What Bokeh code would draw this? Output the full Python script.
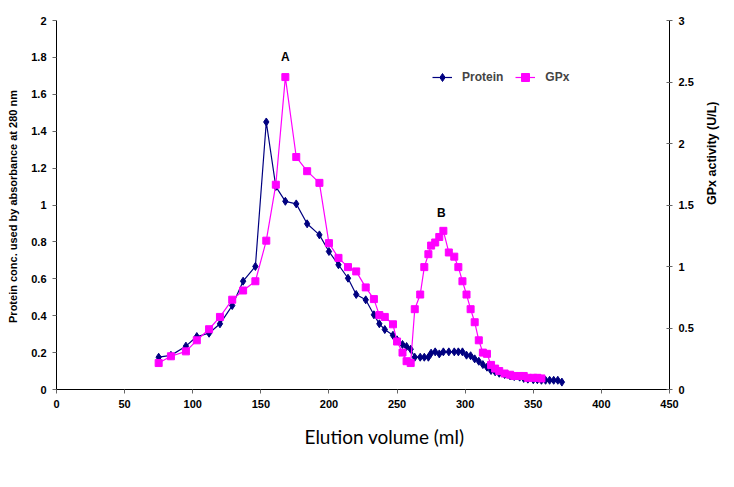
import math
from bokeh.plotting import figure
from bokeh.models import (Range1d, LinearAxis, FixedTicker, Legend, LegendItem, Title)
from bokeh.core.properties import value
from bokeh.embed import file_html
from bokeh.resources import INLINE

# Elution volumes (ml) of the collected fractions
elution_ml = [75, 84, 95, 103, 112, 120, 129, 137, 146, 154, 161, 168, 176, 184,
              193, 200, 207, 214, 220, 227, 233, 237, 241, 247, 250, 254, 257, 260,
              263, 267, 270, 273, 275, 278, 281, 284, 288, 292, 295, 298, 301, 304,
              307, 310, 313, 316, 319, 322, 325, 329, 333, 336, 340, 343, 346, 350,
              353, 356, 359, 362, 365, 368, 371]

# Absorbance at 280 nm (left axis)
protein = [0.175, 0.185, 0.235, 0.287, 0.305, 0.356, 0.455, 0.587, 0.667, 1.45,
           1.10, 1.02, 1.006, 0.898, 0.838, 0.748, 0.676, 0.603, 0.515, 0.486,
           0.405, 0.356, 0.325, 0.294, 0.269, 0.244, 0.233, 0.218, 0.175, 0.175,
           0.175, 0.175, 0.197, 0.204, 0.193, 0.204, 0.204, 0.204, 0.204, 0.204,
           0.186, 0.183, 0.166, 0.153, 0.135, 0.121, 0.103, 0.096, 0.088, 0.081,
           0.074, 0.070, 0.067, 0.060, 0.056, 0.053, 0.053, 0.050, 0.050, 0.050,
           0.050, 0.050, 0.040]

# GPx activity, U/L (right axis), measured up to 356 ml
gpx = [0.215, 0.27, 0.31, 0.40, 0.49, 0.59, 0.73, 0.805, 0.88, 1.21,
       1.665, 2.54, 1.89, 1.775, 1.68, 1.19, 1.07, 0.995, 0.96, 0.83,
       0.735, 0.605, 0.59, 0.53, 0.39, 0.30, 0.23, 0.215, 0.653, 0.772,
       0.995, 1.10, 1.17, 1.195, 1.24, 1.29, 1.114, 1.08, 0.995, 0.88,
       0.772, 0.653, 0.547, 0.40, 0.30, 0.29, 0.20, 0.17, 0.15, 0.13,
       0.12, 0.11, 0.11, 0.11, 0.095, 0.095, 0.095, 0.09]
gpx_ml = elution_ml[:len(gpx)]

# Peak annotations (data coordinates, left axis)
peak_names = ["A", "B"]
peak_x = [168, 282.5]
peak_y = [1.80, 0.955]

x_ticks = [0, 50, 100, 150, 200, 250, 300, 350, 400, 450]
x_labels = ["0", "50", "100", "150", "200", "250", "300", "350", "400", "450"]
left_ticks = [0, 0.2, 0.4, 0.6, 0.8, 1, 1.2, 1.4, 1.6, 1.8, 2]
left_labels = ["0", "0.2", "0.4", "0.6", "0.8", "1", "1.2", "1.4", "1.6", "1.8", "2"]
right_ticks = [0, 0.5, 1, 1.5, 2, 2.5, 3]
right_labels = ["0", "0.5", "1", "1.5", "2", "2.5", "3"]

NAVY = "#000080"
MAGENTA = "#FF00FF"
TICK_FONT = "Liberation Sans"

p = figure(width=734, height=487, output_backend="svg", toolbar_location=None,
           x_range=Range1d(0, 450), y_range=Range1d(0, 2))
p.min_border_left = 56
p.min_border_right = 65
p.min_border_top = 20
p.min_border_bottom = 98
p.outline_line_color = None
p.background_fill_color = "white"
p.border_fill_color = "white"
p.xgrid.visible = False
p.ygrid.visible = False

p.extra_y_ranges = {"gpx": Range1d(0, 3)}

def style_axis(ax, ticks, labels):
    ax.ticker = FixedTicker(ticks=ticks)
    ax.major_label_overrides = {t: l for t, l in zip(ticks, labels)}
    ax.minor_tick_line_color = None
    ax.axis_line_color = "black"
    ax.axis_line_width = 1
    ax.major_tick_line_color = "#666666"
    ax.major_label_text_font = TICK_FONT
    ax.major_label_text_font_style = "bold"
    ax.major_label_text_font_size = "11px"
    ax.major_label_text_color = "black"

xa = p.xaxis[0]
style_axis(xa, x_ticks, x_labels)
xa.major_tick_out = 4
xa.major_tick_in = 0
xa.major_label_standoff = 6

ya = p.yaxis[0]
style_axis(ya, left_ticks, left_labels)
ya.major_tick_out = 4
ya.major_tick_in = 0
ya.major_label_standoff = 6
ya.axis_label = "Protein conc. used by  absorbance at 280 nm"
ya.axis_label_text_font = TICK_FONT
ya.axis_label_text_font_style = "bold"
ya.axis_label_text_font_size = "11px"
ya.axis_label_standoff = 9
ya.axis_label_text_color = "black"

ra = LinearAxis(y_range_name="gpx")
style_axis(ra, right_ticks, right_labels)
ra.major_tick_out = 3
ra.major_tick_in = 3
ra.major_label_standoff = 6
ra.axis_label = "GPx  activity (U/L)"
ra.axis_label_orientation = math.pi / 2
ra.axis_label_text_font = TICK_FONT
ra.axis_label_text_font_style = "bold"
ra.axis_label_text_font_size = "12.5px"
ra.axis_label_standoff = 15
ra.axis_label_text_color = "black"
p.add_layout(ra, "right")

# x-axis title, set a little right of the frame centre
x_title = Title(text="Elution volume (ml)", align="left", offset=248, standoff=24,
                text_font="Lato", text_font_style="normal", text_font_size="19px",
                text_color="black")
p.add_layout(x_title, "below")

# Protein elution profile
pl = p.line(elution_ml, protein, line_color=NAVY, line_width=1.2)
pm = p.scatter(elution_ml, protein, marker="diamond", size=8,
               fill_color=NAVY, line_color=NAVY)

# GPx activity profile
gl = p.line(gpx_ml, gpx, line_color=MAGENTA, line_width=1.2, y_range_name="gpx")
gm = p.scatter(gpx_ml, gpx, marker="square", size=7, fill_color=MAGENTA,
               line_color=MAGENTA, y_range_name="gpx")

p.text(peak_x, peak_y, text=peak_names, text_font=value(TICK_FONT),
       text_font_style="bold", text_font_size="12px", text_align="center",
       text_baseline="middle", text_color="black")

legend = Legend(items=[LegendItem(label="Protein", renderers=[pl, pm]),
                       LegendItem(label="GPx", renderers=[gl, gm])],
                orientation="horizontal", location=(376, 302))
legend.border_line_color = None
legend.background_fill_alpha = 0
legend.label_text_font = TICK_FONT
legend.label_text_font_style = "bold"
legend.label_text_font_size = "12px"
legend.glyph_width = 20
legend.spacing = 12
legend.padding = 0
legend.margin = 0
legend.label_standoff = 10
p.add_layout(legend, "center")

open("out.html", "w").write(file_html(p, INLINE))
